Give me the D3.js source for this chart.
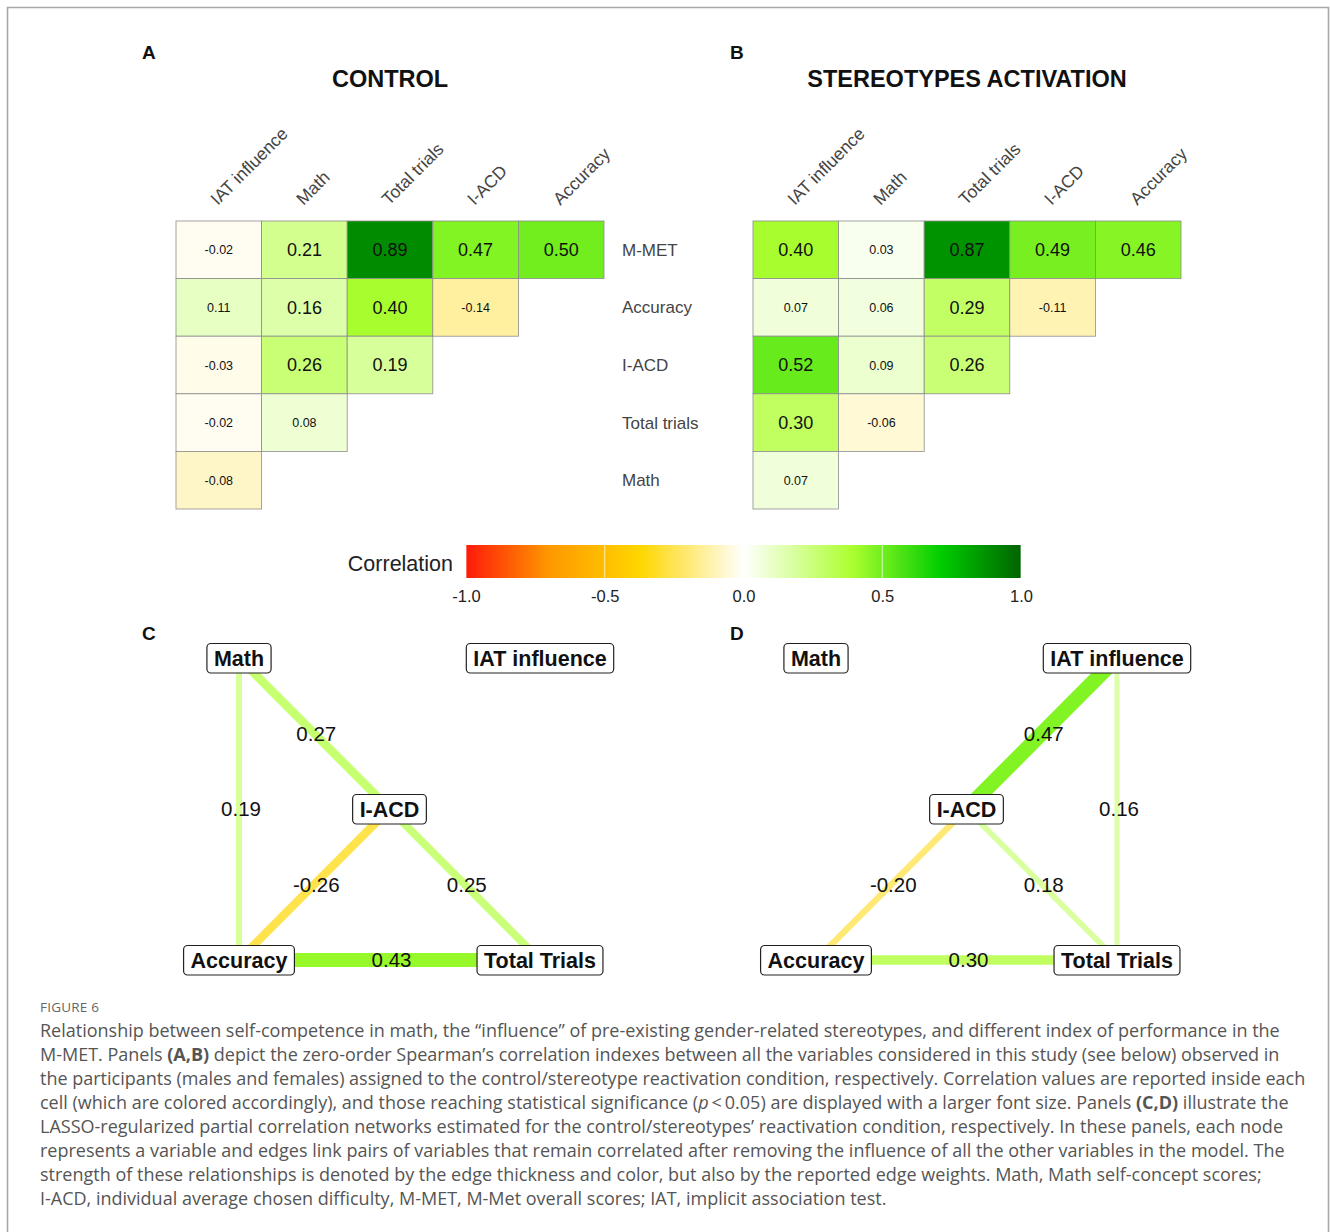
<!DOCTYPE html>
<html>
<head>
<meta charset="utf-8">
<script src="https://cdn.jsdelivr.net/npm/d3@7"></script>
<style>
  body { margin: 0; background: #fff; }
  svg { display: block; }
</style>
</head>
<body>
<svg id="fig" width="1330" height="1232"></svg>
<script>
// ---- Correlation matrices (lower triangle, rows x columns) ----
const columns = ["IAT influence", "Math", "Total trials", "I-ACD", "Accuracy"];
const rows = ["M-MET", "Accuracy", "I-ACD", "Total trials", "Math"];

const controlValues = [
  [-0.02, 0.21, 0.89, 0.47, 0.50],
  [0.11, 0.16, 0.40, -0.14],
  [-0.03, 0.26, 0.19],
  [-0.02, 0.08],
  [-0.08]
];
const controlSignificant = [
  [false, true, true, true, true],
  [false, true, true, false],
  [false, true, true],
  [false, false],
  [false]
];

const activationValues = [
  [0.40, 0.03, 0.87, 0.49, 0.46],
  [0.07, 0.06, 0.29, -0.11],
  [0.52, 0.09, 0.26],
  [0.30, -0.06],
  [0.07]
];
const activationSignificant = [
  [true, false, true, true, true],
  [false, false, true, false],
  [true, false, true],
  [true, false],
  [false]
];

// ---- Colour scale ----
const colorDomain = [-1, -0.7, -0.37, 0, 0.39, 0.71, 1];
const colorPalette = ["#ff1a0a", "#ff9800", "gold", "white", "greenyellow", "#00cd00", "#006400"];
const colorTicks = [-1.0, -0.5, 0.0, 0.5, 1.0];

// ---- Partial correlation networks ----
const nodeNames = ["Math", "IAT influence", "I-ACD", "Accuracy", "Total Trials"];
const controlEdges = [
  ["Math", "Accuracy", 0.19],
  ["Math", "I-ACD", 0.27],
  ["I-ACD", "Accuracy", -0.26],
  ["I-ACD", "Total Trials", 0.25],
  ["Accuracy", "Total Trials", 0.43]
];
const activationEdges = [
  ["IAT influence", "I-ACD", 0.47],
  ["IAT influence", "Total Trials", 0.16],
  ["I-ACD", "Accuracy", -0.20],
  ["I-ACD", "Total Trials", 0.18],
  ["Accuracy", "Total Trials", 0.30]
];

// ---- Caption ----
const captionHeading = "FIGURE 6";
const captionLines = [
  [["Relationship between self-competence in math, the \u201cinfluence\u201d of pre-existing gender-related stereotypes, and different index of performance in the"]],
  [["M-MET. Panels "], ["(A,B)", "b"], [" depict the zero-order Spearman\u2019s correlation indexes between all the variables considered in this study (see below) observed in"]],
  [["the participants (males and females) assigned to the control/stereotype reactivation condition, respectively. Correlation values are reported inside each"]],
  [["cell (which are colored accordingly), and those reaching statistical significance ("], ["p", "i"], ["\u2009<\u20090.05) are displayed with a larger font size. Panels "], ["(C,D)", "b"], [" illustrate the"]],
  [["LASSO-regularized partial correlation networks estimated for the control/stereotypes\u2019 reactivation condition, respectively. In these panels, each node"]],
  [["represents a variable and edges link pairs of variables that remain correlated after removing the influence of all the other variables in the model. The"]],
  [["strength of these relationships is denoted by the edge thickness and color, but also by the reported edge weights. Math, Math self-concept scores;"]],
  [["I-ACD, individual average chosen difficulty, M-MET, M-Met overall scores; IAT, implicit association test."]]
];

const svg = d3.select("#fig");
const SANS = "'Liberation Sans', Arial, sans-serif";

// number formats with a plain hyphen for negatives
const locale = d3.formatLocale({ decimal: ".", thousands: ",", grouping: [3], currency: ["", ""], minus: "-" });
const fmt2 = locale.format(".2f");
const fmt1 = locale.format(".1f");

const color = d3.scaleLinear().domain(colorDomain).range(colorPalette)
  .interpolate(d3.interpolateRgb).clamp(true);

// frame around the figure
svg.append("path")
  .attr("d", "M7.5,1232 V7.5 H1328.5 V1232")
  .attr("fill", "none").attr("stroke", "#a8a8a8").attr("stroke-width", 1.6);

// panel letters
[["A", 142, 59], ["B", 730, 59], ["C", 142, 640], ["D", 730, 640]].forEach(([t, x, y]) => {
  svg.append("text").attr("x", x).attr("y", y).text(t)
    .attr("font-family", SANS).attr("font-weight", "bold").attr("font-size", 19).attr("fill", "#111");
});

// ---- heatmap panel ----
function heatmap(x0, title, values, significant, showRowLabels) {
  const g = svg.append("g");
  const x = d3.scaleBand().domain(columns).range([x0, x0 + 428]);
  const y = d3.scaleBand().domain(rows).range([221, 509]);

  g.append("text")
    .attr("x", x0 + 214).attr("y", 87)
    .attr("text-anchor", "middle")
    .attr("font-family", SANS).attr("font-weight", "bold").attr("font-size", 23.5).attr("fill", "#111")
    .text(title);

  // column labels, rotated
  g.selectAll("text.col").data(columns).join("text")
    .attr("class", "col")
    .attr("transform", d => `translate(${x(d) + x.bandwidth() / 2 - 1},${206}) rotate(-45)`)
    .attr("font-family", SANS).attr("font-size", 17.5).attr("fill", "#444")
    .text(d => d);

  // row labels, shared by both panels
  if (showRowLabels) {
    g.selectAll("text.row").data(rows).join("text")
      .attr("class", "row")
      .attr("x", x0 + 428 + 18)
      .attr("y", d => y(d) + y.bandwidth() / 2)
      .attr("dy", "0.35em")
      .attr("font-family", SANS).attr("font-size", 17).attr("fill", "#444")
      .text(d => d);
  }

  const cells = [];
  values.forEach((row, i) => row.forEach((v, j) => cells.push({
    row: rows[i], col: columns[j], v, sig: significant[i][j]
  })));

  g.selectAll("rect.cell").data(cells).join("rect")
    .attr("class", "cell")
    .attr("x", d => x(d.col)).attr("y", d => y(d.row))
    .attr("width", x.bandwidth()).attr("height", y.bandwidth())
    .attr("fill", d => color(d.v))
    .attr("stroke", "#8c8c8c").attr("stroke-width", 0.8);

  g.selectAll("text.val").data(cells).join("text")
    .attr("class", "val")
    .attr("x", d => x(d.col) + x.bandwidth() / 2)
    .attr("y", d => y(d.row) + y.bandwidth() / 2)
    .attr("dy", "0.36em")
    .attr("text-anchor", "middle")
    .attr("font-family", SANS)
    .attr("font-size", d => d.sig ? 18 : 12.5)
    .attr("fill", "#111")
    .text(d => fmt2(d.v));
}

heatmap(176, "CONTROL", controlValues, controlSignificant, true);
heatmap(753, "STEREOTYPES ACTIVATION", activationValues, activationSignificant, false);

// ---- colour bar ----
const barX = d3.scaleLinear().domain([-1, 1]).range([466, 1021]);
const defs = svg.append("defs");
const grad = defs.append("linearGradient").attr("id", "corrGrad")
  .attr("x1", "0%").attr("x2", "100%").attr("y1", "0%").attr("y2", "0%");
d3.range(0, 1.0001, 0.01).forEach(t => {
  grad.append("stop").attr("offset", `${t * 100}%`).attr("stop-color", color(-1 + 2 * t));
});
svg.append("rect").attr("x", barX(-1)).attr("y", 545).attr("width", barX(1) - barX(-1)).attr("height", 33)
  .attr("fill", "url(#corrGrad)");
svg.append("g").selectAll("line").data(colorTicks).join("line")
  .attr("x1", d => barX(d)).attr("x2", d => barX(d))
  .attr("y1", 545).attr("y2", 578)
  .attr("stroke", "#fff").attr("stroke-opacity", 0.7).attr("stroke-width", 1);

const axis = d3.axisBottom(barX).tickValues(colorTicks).tickFormat(fmt1).tickSize(0).tickPadding(0);
const axG = svg.append("g").attr("transform", "translate(0,590)").call(axis);
axG.select(".domain").remove();
axG.selectAll("text").attr("font-family", SANS).attr("font-size", 16.5).attr("fill", "#222");

svg.append("text").attr("x", 453).attr("y", 571).attr("text-anchor", "end")
  .attr("font-family", SANS).attr("font-size", 21.5).attr("fill", "#222").text("Correlation");

// ---- network panels ----
const layout = {
  "Math": [0, 0], "IAT influence": [2, 0], "I-ACD": [1, 1],
  "Accuracy": [0, 2], "Total Trials": [2, 2]
};
const edgeWidth = d3.scaleLinear().domain([0, 1]).range([0, 32]);

function network(x0, edges) {
  const g = svg.append("g");
  const nx = d3.scaleLinear().domain([0, 2]).range([x0, x0 + 301]);
  const ny = d3.scaleLinear().domain([0, 2]).range([658, 960]);
  const pos = n => [nx(layout[n][0]), ny(layout[n][1])];

  g.selectAll("line.edge").data(edges).join("line")
    .attr("class", "edge")
    .attr("x1", d => pos(d[0])[0]).attr("y1", d => pos(d[0])[1])
    .attr("x2", d => pos(d[1])[0]).attr("y2", d => pos(d[1])[1])
    .attr("stroke", d => color(d[2]))
    .attr("stroke-width", d => edgeWidth(Math.abs(d[2])));

  g.selectAll("text.w").data(edges).join("text")
    .attr("class", "w")
    .attr("x", d => (pos(d[0])[0] + pos(d[1])[0]) / 2 + 2)
    .attr("y", d => (pos(d[0])[1] + pos(d[1])[1]) / 2)
    .attr("dy", "0.36em").attr("text-anchor", "middle")
    .attr("font-family", SANS).attr("font-size", 20.5).attr("fill", "#111")
    .text(d => fmt2(d[2]));

  const nodes = g.selectAll("g.node").data(nodeNames).join("g")
    .attr("class", "node")
    .attr("transform", d => `translate(${pos(d)[0]},${pos(d)[1]})`);
  nodes.append("rect");
  const label = nodes.append("text")
    .attr("text-anchor", "middle").attr("dy", "0.36em")
    .attr("font-family", SANS).attr("font-weight", "bold").attr("font-size", 21.5).attr("fill", "#111")
    .text(d => d);
  label.each(function () {
    const w = this.getComputedTextLength() + 14;
    d3.select(this.parentNode).select("rect")
      .attr("x", -w / 2).attr("y", -14.5).attr("width", w).attr("height", 29.5)
      .attr("rx", 4).attr("fill", "#fff").attr("stroke", "#222").attr("stroke-width", 1.2);
  });
}

network(239, controlEdges);
network(816, activationEdges);

// ---- caption ----
const CAP = "'Open Sans', Lato, sans-serif";
svg.append("text").attr("x", 40).attr("y", 1012)
  .attr("font-family", CAP).attr("font-size", 13.5).attr("fill", "#666").attr("letter-spacing", 0.2)
  .text(captionHeading);
const cap = svg.append("g").attr("font-family", CAP).attr("font-size", 17).attr("fill", "#555");
const capTexts = captionLines.map((segs, i) => {
  const t = cap.append("text").attr("x", 40).attr("y", 1037 + i * 24);
  segs.forEach(([s, style]) => {
    const ts = t.append("tspan").text(s);
    if (style === "b") ts.attr("font-weight", "bold");
    if (style === "i") ts.attr("font-style", "italic");
  });
  return t;
});
// size the caption so its first line fills the text column
const firstWidth = capTexts[0].node().getComputedTextLength();
cap.attr("font-size", 17 * 1241 / firstWidth);
</script>
</body>
</html>
